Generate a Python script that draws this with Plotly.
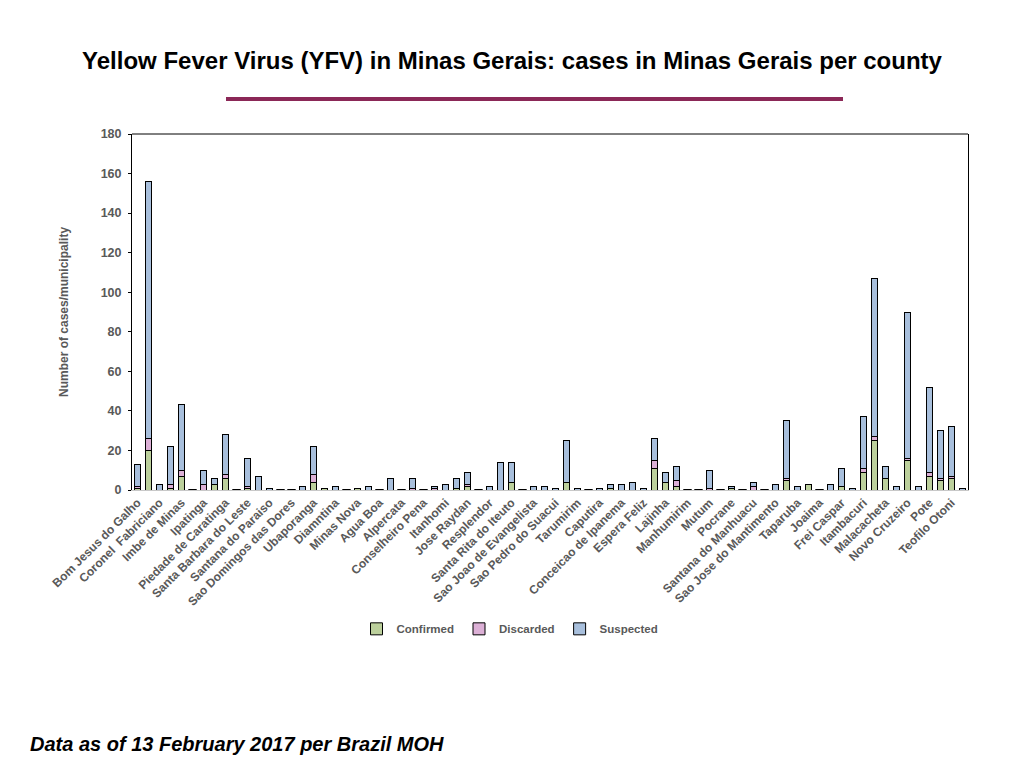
import plotly.graph_objects as go

# Labelled counties (every other bar carries a label)
labels = [
    "Bom Jesus do Galho", "Coronel  Fabriciano", "Imbe de Minas", "Ipatinga",
    "Piedade de Caratinga", "Santa Barbara do Leste", "Santana do Paraiso",
    "Sao Domingos das Dores", "Ubaporanga", "Diamntina", "Minas Nova", "Agua Boa",
    "Alpercata", "Conselheiro Pena", "Itanhomi", "Jose Raydan", "Resplendor",
    "Santa Rita do Iteuto", "Sao Joao de Evangelista", "Sao Pedro do Suacui",
    "Tarumirim", "Caputira", "Conceicao de Ipanema", "Espera Feliz", "Lajinha",
    "Manhumirim", "Mutum", "Pocrane", "Santana do Manhuacu",
    "Sao Jose do Mantimento", "Taparuba", "Joaima", "Frei Caspar", "Itambacuri",
    "Malacacheta", "Novo Cruzeiro", "Pote", "Teofilo Otoni",
]

confirmed = [1, 20, 0, 1, 7, 0, 0, 3, 6, 0, 1, 0, 0, 0, 0, 0, 4, 1, 0, 0,
             1, 0, 0, 0, 0, 0, 0, 0, 0, 1, 2, 0, 0, 0, 4, 0, 0, 0, 0, 4,
             0, 0, 0, 1, 0, 0, 0, 11, 4, 2, 0, 0, 0, 0, 1, 0, 0, 0, 0, 5,
             0, 3, 0, 0, 2, 0, 9, 25, 6, 0, 15, 0, 7, 5, 6, 0]
discarded = [1, 6, 0, 2, 3, 0, 3, 0, 2, 0, 1, 0, 0, 0, 0, 0, 4, 0, 0, 0,
             0, 0, 0, 0, 0, 1, 0, 1, 0, 0, 1, 0, 0, 0, 0, 0, 0, 0, 0, 0,
             0, 0, 0, 0, 0, 0, 0, 4, 0, 3, 0, 0, 1, 0, 0, 0, 2, 0, 0, 1,
             0, 0, 0, 0, 0, 0, 2, 2, 0, 0, 1, 0, 2, 1, 1, 0]
suspected = [11, 130, 3, 19, 33, 0, 7, 3, 20, 0, 14, 7, 1, 0, 0, 2, 14, 0, 2, 0,
             0, 2, 0, 6, 0, 5, 0, 1, 3, 5, 6, 0, 2, 14, 10, 0, 2, 2, 1, 21,
             1, 0, 1, 2, 3, 4, 1, 11, 5, 7, 0, 0, 9, 0, 1, 0, 2, 0, 3, 29,
             2, 0, 0, 3, 9, 1, 26, 80, 6, 2, 74, 2, 43, 24, 25, 1]

series_names = ["Confirmed", "Discarded", "Suspected"]
series_colors = ["#bcd09c", "#dcb0d6", "#a8bfdc"]

x_idx = list(range(len(confirmed)))
tick_pos = x_idx[0::2][:len(labels)]
totals = [c + d + s for c, d, s in zip(confirmed, discarded, suspected)]
zero_x = [i for i, t in zip(x_idx, totals) if t == 0]
zero_y = [0 for _ in zero_x]

FONT = "Arial, Liberation Sans, sans-serif"

fig = go.Figure()
for name, vals, col in zip(series_names, [confirmed, discarded, suspected], series_colors):
    fig.add_trace(go.Bar(
        x=x_idx, y=vals, name="<b>%s</b>" % name,
        marker=dict(color=col, line=dict(color="black", width=1)),
    ))

# zero-height bars still show their outline as a short dash
fig.add_trace(go.Scatter(
    x=zero_x, y=zero_y, mode="markers", showlegend=False, hoverinfo="skip",
    marker=dict(symbol="line-ew", size=6, line=dict(color="black", width=2)),
    cliponaxis=False,
))

fig.update_layout(
    width=1024, height=768,
    barmode="stack", bargap=0.45,
    paper_bgcolor="white", plot_bgcolor="white",
    margin=dict(l=124, r=64, t=126, b=286, autoexpand=False),
    font=dict(family=FONT, color="#595959"),
    title=dict(
        text="<b>Yellow Fever Virus (YFV) in Minas Gerais: cases in Minas Gerais per county</b>",
        x=(512 - 8) / 1024, xanchor="center", y=1 - 53 / 768, yanchor="middle",
        font=dict(size=24, color="black", family=FONT),
    ),
    xaxis=dict(
        range=[-0.5, len(confirmed) - 0.5],
        tickmode="array", tickvals=tick_pos,
        ticktext=["<b>%s</b>" % t for t in labels],
        tickangle=-45, tickfont=dict(size=12, color="#595959"),
        showgrid=False, zeroline=False,
        showline=True, linecolor="#c8c8c8", linewidth=1, ticks="",
    ),
    yaxis=dict(
        range=[0, 180], dtick=20, tickmode="linear",
        tickfont=dict(size=12.5, color="#595959"),
        tickprefix="<b>", ticksuffix="</b>",
        showgrid=False, zeroline=False,
        showline=True, linecolor="black", linewidth=1, mirror=True,
        ticks="outside", ticklen=3, tickcolor="black", ticklabelstandoff=4,
    ),
    legend=dict(
        orientation="h", x=(510 - 132) / 836, xanchor="center",
        y=-0.39, yanchor="middle",
        font=dict(size=11.5, color="#595959"), itemwidth=30,
        traceorder="normal",
    ),
    showlegend=True,
)

fig.add_shape(type="line", xref="paper", yref="paper", x0=0, x1=1, y0=1, y1=1,
              line=dict(color="black", width=1))
# decorative rule under the title
fig.add_shape(type="line", xref="paper", yref="paper",
              x0=(226 - 132) / 836, x1=(843 - 132) / 836,
              y0=(490 - 99) / 356, y1=(490 - 99) / 356,
              line=dict(color="#8b2857", width=4))

fig.add_annotation(
    text="<b>Number of cases/municipality</b>", textangle=-90,
    xref="paper", yref="paper", x=(64 - 132) / 836, y=0.5,
    xanchor="center", yanchor="middle", showarrow=False,
    font=dict(size=12, color="#595959", family=FONT),
)
fig.add_annotation(
    text="<b><i>Data as of 13 February 2017 per Brazil MOH</i></b>",
    xref="paper", yref="paper", x=(28 - 132) / 836, y=(490 - 744) / 356,
    xanchor="left", yanchor="middle", showarrow=False,
    font=dict(size=20, color="black", family=FONT),
)

fig.write_html("out.html")
